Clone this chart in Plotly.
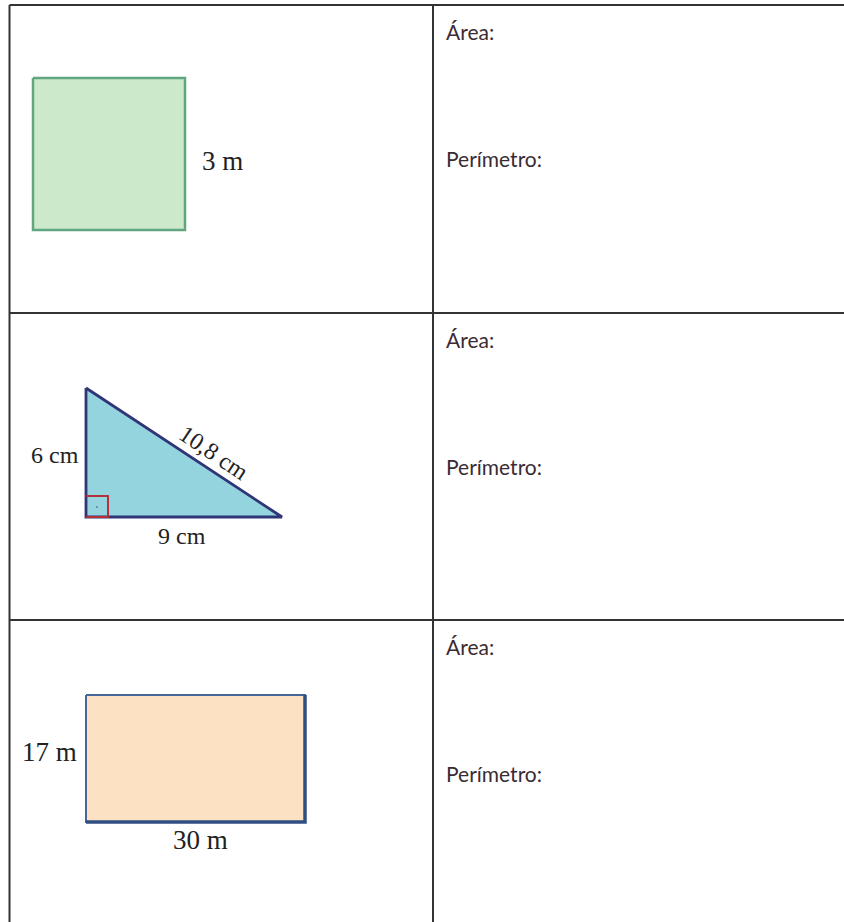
import plotly.graph_objects as go

# ---- data ----
row_tops = [5, 313, 620]
area_label = "Área:"
perim_label = "Perímetro:"

square_x = [33, 185, 185, 33, 33]
square_y = [78, 78, 230, 230, 78]
square_labels = ["3 m"]

tri_x = [86, 86, 282, 86]
tri_y = [388, 517, 517, 388]
tri_labels = ["6 cm", "9 cm", "10,8 cm"]
right_angle_x = [86, 108, 108, 86]
right_angle_y = [496, 496, 517, 517]

rect_x = [86, 305, 305, 86, 86]
rect_y = [695, 695, 822, 822, 695]
rect_labels = ["17 m", "30 m"]

W, H = 844, 922
fig = go.Figure()

# square
fig.add_trace(go.Scatter(x=square_x, y=square_y, fill="toself", fillcolor="#cde9cc",
                         line=dict(color="#62a67f", width=2.5), mode="lines", hoverinfo="skip"))
# triangle
fig.add_trace(go.Scatter(x=tri_x, y=tri_y, fill="toself", fillcolor="#93d4df",
                         line=dict(color="#2f3577", width=2.8), mode="lines", hoverinfo="skip"))
fig.add_trace(go.Scatter(x=right_angle_x, y=right_angle_y, mode="lines",
                         line=dict(color="#b5303a", width=2), hoverinfo="skip"))
fig.add_trace(go.Scatter(x=[97], y=[507], mode="markers", marker=dict(size=2, color="#6a7a9a"),
                         hoverinfo="skip"))
# rectangle
fig.add_trace(go.Scatter(x=rect_x, y=rect_y, fill="toself", fillcolor="#fce2c3",
                         line=dict(color="#44669a", width=2), mode="lines", hoverinfo="skip"))
fig.add_trace(go.Scatter(x=[86, 305, 305], y=[822, 822, 695], mode="lines",
                         line=dict(color="#2f4f82", width=3.5), hoverinfo="skip"))

shapes = []
line_col = "#333333"
# table borders
shapes.append(dict(type="line", x0=9.5, x1=W, y0=5, y1=5, line=dict(color=line_col, width=2)))
shapes.append(dict(type="line", x0=9.5, x1=9.5, y0=5, y1=H, line=dict(color=line_col, width=2)))
shapes.append(dict(type="line", x0=433, x1=433, y0=5, y1=H, line=dict(color=line_col, width=2)))
for t in row_tops[1:]:
    shapes.append(dict(type="line", x0=9.5, x1=W, y0=t, y1=t, line=dict(color=line_col, width=2)))

ann = []
sans = dict(family="Lato, Open Sans, sans-serif", size=21, color="#3b2b33")
for t in row_tops:
    ann.append(dict(x=444, y=t + 26, text=area_label, showarrow=False, xanchor="left",
                    yanchor="middle", font=sans))
    ann.append(dict(x=444, y=t + 153, text=perim_label, showarrow=False, xanchor="left",
                    yanchor="middle", font=sans))

serif = dict(family="Liberation Serif, DejaVu Serif, serif", size=27, color="#222222")
ann.append(dict(x=200, y=161, text=square_labels[0], showarrow=False, xanchor="left",
                yanchor="middle", font=serif))
ann.append(dict(x=81, y=455, text=tri_labels[0], showarrow=False, xanchor="right",
                yanchor="middle", font=dict(serif, size=24)))
ann.append(dict(x=182, y=536, text=tri_labels[1], showarrow=False, xanchor="center",
                yanchor="middle", font=dict(serif, size=24)))
ann.append(dict(x=214, y=453, text=tri_labels[2], showarrow=False, xanchor="center",
                yanchor="middle", textangle=34, font=dict(serif, size=24)))
ann.append(dict(x=79, y=752, text=rect_labels[0], showarrow=False, xanchor="right",
                yanchor="middle", font=serif))
ann.append(dict(x=200, y=840, text=rect_labels[1], showarrow=False, xanchor="center",
                yanchor="middle", font=serif))

fig.update_layout(
    width=W, height=H, margin=dict(l=0, r=0, t=0, b=0),
    paper_bgcolor="white", plot_bgcolor="white", showlegend=False,
    xaxis=dict(range=[0, W], visible=False, fixedrange=True),
    yaxis=dict(range=[H, 0], visible=False, fixedrange=True),
    shapes=shapes, annotations=ann,
)
fig.write_html("out.html", config={"displayModeBar": False},
               post_script="document.body.style.margin='0';document.body.style.overflow='hidden';")
